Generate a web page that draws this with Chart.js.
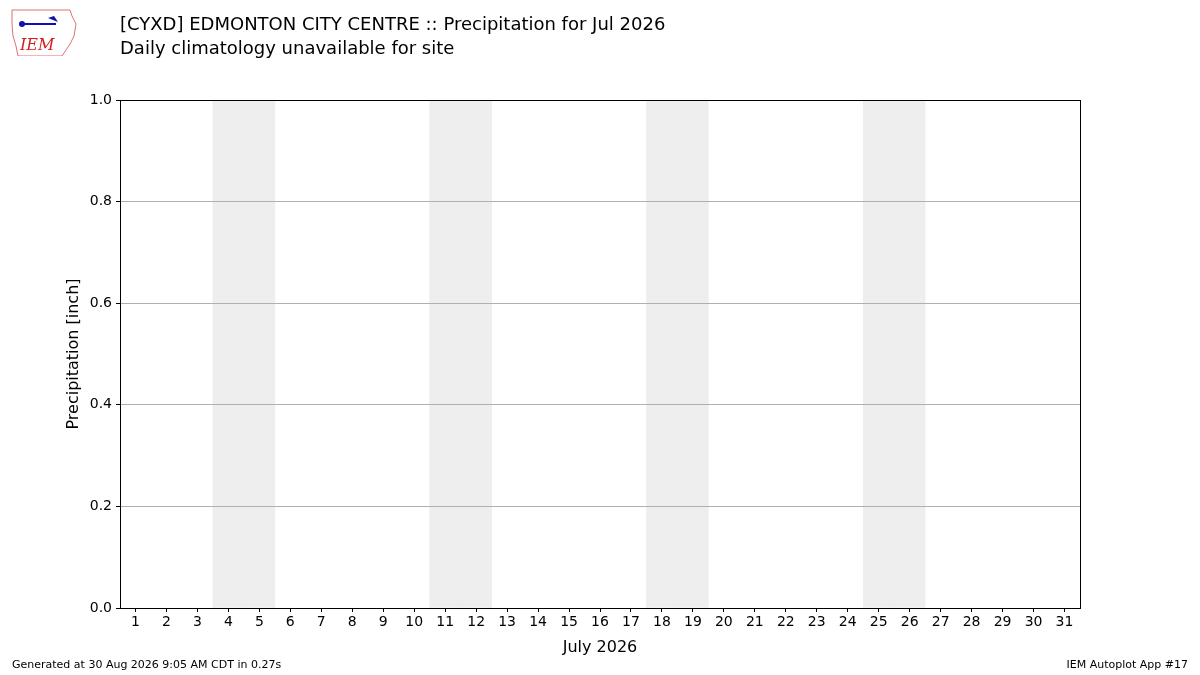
<!DOCTYPE html>
<html>
<head>
<meta charset="utf-8">
<script src="https://cdn.jsdelivr.net/npm/chart.js@4/dist/chart.umd.min.js"></script>
<style>
  body { margin: 0; background: #fff; font-family: "DejaVu Sans", sans-serif; }
  #wrap { position: relative; width: 1200px; height: 675px; }
  canvas { position: absolute; left: 0; top: 0; }
  .t { position: absolute; color: #000; white-space: nowrap; }
  #logo { position: absolute; left: 10px; top: 6px; width: 68px; height: 50px; }
</style>
</head>
<body>
<div id="wrap">
  <canvas id="c" width="1200" height="675"></canvas>
  <svg id="logo" viewBox="0 0 68 50">
    <path d="M2 4 L60 4 L62 10 L66 18 L64 30 L60 38 L56 44 L52 50 L8 50 L6 40 L3 30 L2 18 Z" fill="none" stroke="#e07070" stroke-width="1"/>
    <line x1="12" y1="18" x2="46" y2="18" stroke="#1010b0" stroke-width="2"/>
    <circle cx="12" cy="18" r="3" fill="#1010b0"/>
    <path d="M38 12 L48 16 L44 10 Z" fill="#1010b0"/>
    <text x="10" y="44" fill="#d02020" font-size="16" font-style="italic" font-family="DejaVu Serif">IEM</text>
  </svg>
  <div class="t" style="left:120px;top:13px;font-size:18px;">[CYXD] EDMONTON CITY CENTRE :: Precipitation for Jul 2026</div>
  <div class="t" style="left:120px;top:37px;font-size:18px;">Daily climatology unavailable for site</div>
  <div class="t" style="left:12px;top:658px;font-size:11px;">Generated at 30 Aug 2026 9:05 AM CDT in 0.27s</div>
  <div class="t" style="right:12px;top:658px;font-size:11px;">IEM Autoplot App #17</div>
</div>
<script>
const days = Array.from({length: 31}, (_, i) => String(i + 1));
const precip = new Array(31).fill(0);
const weekendDays = [4, 5, 11, 12, 18, 19, 25, 26];
const yTicks = [0, 0.2, 0.4, 0.6, 0.8, 1.0];

const shade = days.map(d => weekendDays.includes(Number(d)) ? 1 : null);

const frame = {
  id: 'frame',
  afterDraw(chart) {
    const a = chart.chartArea, c = chart.ctx;
    c.save();
    c.strokeStyle = '#000';
    c.lineWidth = 1;
    c.strokeRect(a.left + 0.5, a.top + 0.5, a.right - a.left, a.bottom - a.top);
    c.restore();
  }
};

new Chart(document.getElementById('c'), {
  type: 'bar',
  data: {
    labels: days,
    datasets: [
      { data: shade, backgroundColor: '#eeeeee', borderWidth: 0, barPercentage: 1, categoryPercentage: 1, grouped: false, order: 2 },
      { data: precip, backgroundColor: '#1f77b4', borderWidth: 0, grouped: false, order: 1 }
    ]
  },
  options: {
    responsive: false,
    animation: false,
    layout: { padding: { left: 64, top: 100, right: 120, bottom: 18 } },
    plugins: { legend: { display: false }, tooltip: { enabled: false } },
    scales: {
      x: {
        afterFit(s) { s.height = 49; },
        grid: { display: true, drawOnChartArea: false, offset: false, tickColor: '#000', tickLength: 4 },
        border: { display: false },
        ticks: { color: '#000', font: { family: 'DejaVu Sans', size: 14 }, maxRotation: 0, autoSkip: false, padding: 2 },
        title: { display: true, text: 'July 2026', color: '#000', font: { family: 'DejaVu Sans', size: 16 }, padding: 0 }
      },
      y: {
        min: 0, max: 1,
        afterFit(s) { s.width = 56; },
        afterBuildTicks(s) { s.ticks = yTicks.map(v => ({ value: v })); },
        grid: { color: '#b0b0b0', tickColor: '#000', tickLength: 4, z: 1 },
        border: { display: false },
        ticks: { color: '#000', font: { family: 'DejaVu Sans', size: 14 }, callback: v => v.toFixed(1), padding: 4 },
        title: { display: true, text: 'Precipitation [inch]', color: '#000', font: { family: 'DejaVu Sans', size: 16 }, padding: 0 }
      }
    }
  },
  plugins: [frame]
});
</script>
</body>
</html>
